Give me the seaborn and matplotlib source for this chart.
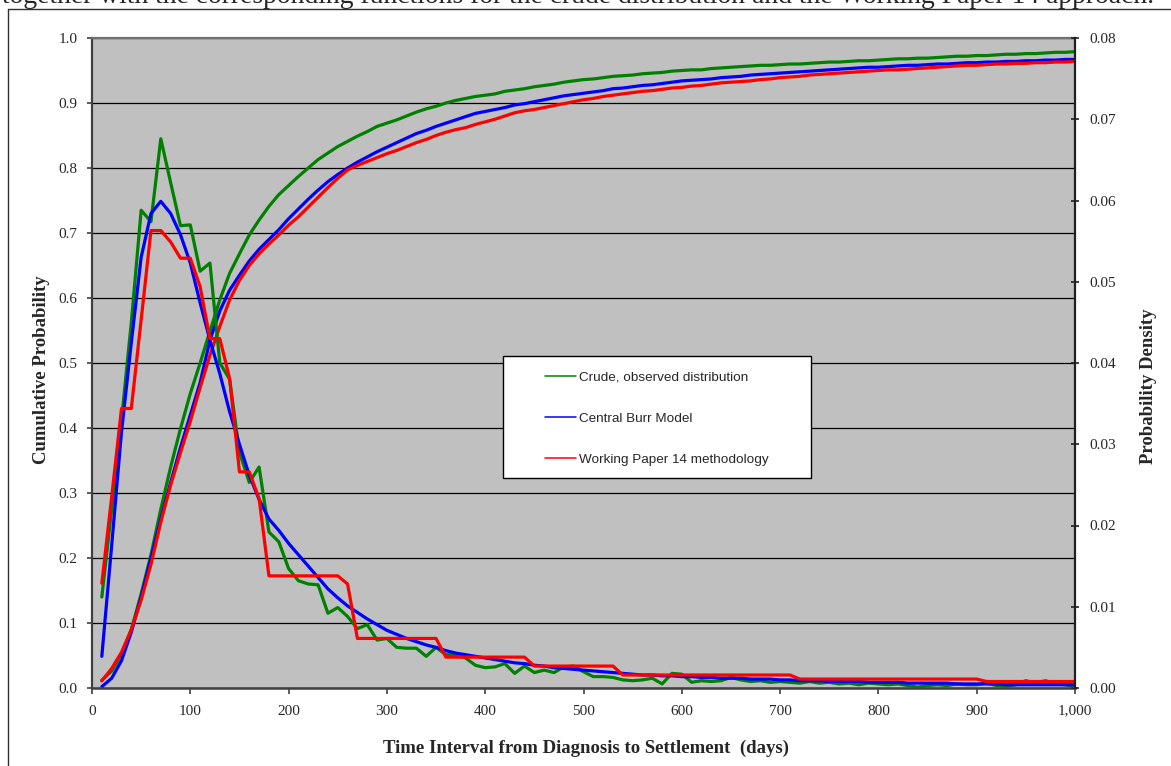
import matplotlib
matplotlib.use("Agg")
import matplotlib.pyplot as plt
from matplotlib.lines import Line2D
from matplotlib.patches import Rectangle
from matplotlib.ticker import FuncFormatter
import numpy as np
import pandas as pd
import seaborn as sns

# Time grid (days from diagnosis to settlement)
days = [10, 20, 30, 40, 50, 60, 70, 80, 90, 100,
        110, 120, 130, 140, 150, 160, 170, 180, 190, 200,
        210, 220, 230, 240, 250, 260, 270, 280, 290, 300,
        310, 320, 330, 340, 350, 360, 370, 380, 390, 400,
        410, 420, 430, 440, 450, 460, 470, 480, 490, 500,
        510, 520, 530, 540, 550, 560, 570, 580, 590, 600,
        610, 620, 630, 640, 650, 660, 670, 680, 690, 700,
        710, 720, 730, 740, 750, 760, 770, 780, 790, 800,
        810, 820, 830, 840, 850, 860, 870, 880, 890, 900,
        910, 920, 930, 940, 950, 960, 970, 980, 990, 1000]

# Cumulative probability (left axis)
crude_cdf = [0.012, 0.026, 0.052, 0.090, 0.145, 0.205, 0.275, 0.340, 0.399, 0.453,
             0.500, 0.549, 0.597, 0.638, 0.668, 0.697, 0.720, 0.741, 0.759, 0.773,
             0.787, 0.800, 0.813, 0.823, 0.833, 0.841, 0.849, 0.856, 0.864, 0.869,
             0.874, 0.880, 0.886, 0.891, 0.895, 0.900, 0.904, 0.907, 0.910, 0.912,
             0.914, 0.918, 0.920, 0.922, 0.925, 0.927, 0.929, 0.932, 0.934, 0.936,
             0.937, 0.939, 0.941, 0.942, 0.943, 0.945, 0.946, 0.947, 0.949, 0.950,
             0.951, 0.951, 0.953, 0.954, 0.955, 0.956, 0.957, 0.958, 0.958, 0.959,
             0.960, 0.960, 0.961, 0.962, 0.963, 0.963, 0.964, 0.965, 0.965, 0.966,
             0.967, 0.968, 0.968, 0.969, 0.969, 0.970, 0.971, 0.972, 0.972, 0.973,
             0.973, 0.974, 0.975, 0.975, 0.976, 0.976, 0.977, 0.978, 0.978, 0.979]

burr_cdf = [0.002, 0.015, 0.042, 0.086, 0.140, 0.200, 0.260, 0.316, 0.370, 0.420,
            0.470, 0.535, 0.580, 0.612, 0.635, 0.657, 0.675, 0.690, 0.705, 0.722,
            0.737, 0.752, 0.766, 0.779, 0.790, 0.800, 0.809, 0.817, 0.825, 0.832,
            0.839, 0.846, 0.853, 0.858, 0.864, 0.869, 0.874, 0.879, 0.884, 0.887,
            0.890, 0.893, 0.897, 0.899, 0.902, 0.905, 0.908, 0.911, 0.913, 0.915,
            0.917, 0.919, 0.922, 0.923, 0.925, 0.927, 0.928, 0.930, 0.932, 0.934,
            0.935, 0.936, 0.937, 0.939, 0.940, 0.941, 0.943, 0.944, 0.945, 0.946,
            0.947, 0.948, 0.949, 0.950, 0.951, 0.952, 0.953, 0.954, 0.955, 0.955,
            0.956, 0.957, 0.958, 0.958, 0.959, 0.960, 0.960, 0.961, 0.962, 0.962,
            0.963, 0.963, 0.964, 0.964, 0.965, 0.965, 0.966, 0.966, 0.967, 0.967]

wp14_cdf = [0.011, 0.030, 0.055, 0.090, 0.135, 0.190, 0.255, 0.312, 0.362, 0.410,
            0.462, 0.512, 0.556, 0.597, 0.627, 0.650, 0.668, 0.683, 0.697, 0.712,
            0.725, 0.740, 0.755, 0.770, 0.784, 0.797, 0.804, 0.810, 0.816, 0.822,
            0.827, 0.833, 0.839, 0.844, 0.850, 0.855, 0.859, 0.862, 0.867, 0.871,
            0.875, 0.880, 0.885, 0.888, 0.890, 0.893, 0.896, 0.899, 0.902, 0.905,
            0.907, 0.910, 0.912, 0.914, 0.916, 0.918, 0.919, 0.921, 0.923, 0.924,
            0.926, 0.927, 0.929, 0.931, 0.932, 0.933, 0.934, 0.936, 0.937, 0.939,
            0.940, 0.941, 0.943, 0.944, 0.945, 0.946, 0.947, 0.948, 0.949, 0.950,
            0.951, 0.951, 0.952, 0.953, 0.954, 0.955, 0.956, 0.957, 0.958, 0.958,
            0.959, 0.960, 0.960, 0.961, 0.961, 0.962, 0.962, 0.963, 0.963, 0.964]

# Probability density (right axis)
crude_pdf = [0.0112, 0.0220, 0.0330, 0.0450, 0.0588, 0.0574, 0.0676, 0.0622, 0.0569, 0.0570,
             0.0513, 0.0523, 0.0400, 0.0380, 0.0290, 0.0253, 0.0272, 0.0192, 0.0180, 0.0147,
             0.0132, 0.0128, 0.0127, 0.0092, 0.0099, 0.0088, 0.0073, 0.0078, 0.0059, 0.0061,
             0.0050, 0.0049, 0.0049, 0.0039, 0.0050, 0.0041, 0.0041, 0.0037, 0.0028, 0.0025,
             0.0026, 0.0030, 0.0018, 0.0027, 0.0019, 0.0022, 0.0019, 0.0026, 0.0027, 0.0020,
             0.0014, 0.0014, 0.0013, 0.0010, 0.0009, 0.0010, 0.0012, 0.0005, 0.0018, 0.0017,
             0.0007, 0.0009, 0.0008, 0.0009, 0.0013, 0.0010, 0.0008, 0.0009, 0.0007, 0.0008,
             0.0007, 0.0006, 0.0008, 0.0006, 0.0007, 0.0005, 0.0006, 0.0004, 0.0006, 0.0005,
             0.0004, 0.0005, 0.0003, 0.0001, 0.0003, 0.0004, 0.0003, 0.0005, 0.0004, 0.0004,
             0.0006, 0.0003, 0.0002, 0.0004, 0.0009, 0.0006, 0.0009, 0.0005, 0.0004, 0.0002]

burr_pdf = [0.0039, 0.0175, 0.0315, 0.0425, 0.0530, 0.0584, 0.0599, 0.0584, 0.0558, 0.0523,
            0.0474, 0.0428, 0.0387, 0.0340, 0.0300, 0.0262, 0.0232, 0.0208, 0.0194, 0.0178,
            0.0164, 0.0150, 0.0136, 0.0122, 0.0111, 0.0101, 0.0093, 0.0085, 0.0078, 0.0071,
            0.0066, 0.0061, 0.0057, 0.0053, 0.0050, 0.0046, 0.0043, 0.0041, 0.0039, 0.0037,
            0.0035, 0.0033, 0.0031, 0.0030, 0.0028, 0.0027, 0.0025, 0.0024, 0.0023, 0.0022,
            0.0021, 0.0020, 0.0019, 0.0018, 0.0017, 0.0016, 0.0016, 0.0015, 0.0015, 0.0014,
            0.0014, 0.0013, 0.0013, 0.0012, 0.0012, 0.0012, 0.0011, 0.0011, 0.0011, 0.0010,
            0.0010, 0.0009, 0.0009, 0.0009, 0.0008, 0.0008, 0.0008, 0.0008, 0.0007, 0.0007,
            0.0007, 0.0007, 0.0006, 0.0006, 0.0006, 0.0006, 0.0006, 0.0005, 0.0005, 0.0005,
            0.0005, 0.0005, 0.0004, 0.0004, 0.0004, 0.0004, 0.0004, 0.0004, 0.0004, 0.0004]

wp14_pdf = [0.0129, 0.0235, 0.0344, 0.0344, 0.0453, 0.0563, 0.0563, 0.0549, 0.0529, 0.0529,
            0.0494, 0.0430, 0.0430, 0.0381, 0.0266, 0.0266, 0.0233, 0.0138, 0.0138, 0.0138,
            0.0138, 0.0138, 0.0138, 0.0138, 0.0138, 0.0128, 0.0061, 0.0061, 0.0061, 0.0061,
            0.0061, 0.0061, 0.0061, 0.0061, 0.0061, 0.0038, 0.0038, 0.0038, 0.0038, 0.0038,
            0.0038, 0.0038, 0.0038, 0.0038, 0.0027, 0.0027, 0.0027, 0.0027, 0.0027, 0.0027,
            0.0027, 0.0027, 0.0027, 0.0016, 0.0016, 0.0016, 0.0016, 0.0016, 0.0016, 0.0016,
            0.0016, 0.0016, 0.0016, 0.0016, 0.0016, 0.0016, 0.0016, 0.0016, 0.0016, 0.0016,
            0.0016, 0.0011, 0.0011, 0.0011, 0.0011, 0.0011, 0.0011, 0.0011, 0.0011, 0.0011,
            0.0011, 0.0011, 0.0011, 0.0011, 0.0011, 0.0011, 0.0011, 0.0011, 0.0011, 0.0011,
            0.0008, 0.0008, 0.0008, 0.0008, 0.0008, 0.0008, 0.0008, 0.0008, 0.0008, 0.0008]

series_names = ["Crude, observed distribution", "Central Burr Model",
                "Working Paper 14 methodology"]
series_colors = ["#008000", "#0000FF", "#FF0000"]

x_ticks = [0, 100, 200, 300, 400, 500, 600, 700, 800, 900, 1000]
left_ticks = [0.0, 0.1, 0.2, 0.3, 0.4, 0.5, 0.6, 0.7, 0.8, 0.9, 1.0]
right_ticks = [0.00, 0.01, 0.02, 0.03, 0.04, 0.05, 0.06, 0.07, 0.08]

caption = ("together with the corresponding functions for the crude distribution "
           "and the Working Paper 14 approach.")

# ---------------------------------------------------------------------------
sns.set_style("white")
plt.rcParams["font.family"] = ["Liberation Serif", "DejaVu Serif"]

W, H = 1171, 766
fig = plt.figure(figsize=(W / 100, H / 100), dpi=100)
ax = fig.add_axes([92 / W, (H - 688) / H, 983 / W, 650 / H])
ax.set_facecolor("#C0C0C0")
ax2 = ax.twinx()


def long_frame(cols):
    return pd.DataFrame({
        "day": days * len(cols),
        "value": [v for col in cols for v in col],
        "series": [n for n, col in zip(series_names, cols) for _ in col],
    })


cdf_df = long_frame([crude_cdf, burr_cdf, wp14_cdf])
pdf_df = long_frame([crude_pdf, burr_pdf, wp14_pdf])
palette = dict(zip(series_names, series_colors))

common = dict(x="day", y="value", hue="series", hue_order=series_names,
              palette=palette, linewidth=2.3, legend=False,
              estimator=None, errorbar=None, sort=False)
sns.lineplot(data=cdf_df, ax=ax, **common)
sns.lineplot(data=pdf_df, ax=ax2, **common)

# Axis ranges and ticks
ax.set_xlim(0, 1000)
ax.set_ylim(0, 1.0)
ax2.set_ylim(0, 0.08)
ax.set_xticks(x_ticks)
ax.set_yticks(left_ticks)
ax2.set_yticks(right_ticks)
ax.xaxis.set_major_formatter(FuncFormatter(lambda v, _: f"{int(round(v)):,}"))
ax.yaxis.set_major_formatter(FuncFormatter(lambda v, _: f"{v:.1f}"))
ax2.yaxis.set_major_formatter(FuncFormatter(lambda v, _: f"{v:.2f}"))

tick_font = 11
ax.tick_params(axis="x", direction="out", length=4, width=1.2, color="#404040",
               pad=8, labelsize=tick_font, bottom=True)
ax.tick_params(axis="y", direction="out", length=3.5, width=1.2, color="#404040",
               pad=7, labelsize=tick_font, left=True)
ax2.tick_params(axis="y", direction="inout", length=6, width=1.2, color="#202020",
                pad=7, labelsize=tick_font, right=True)

# Horizontal grid on the cumulative scale
ax.yaxis.grid(True, color="black", linewidth=0.9)
ax.xaxis.grid(False)
ax.set_axisbelow(True)

# Plot-area border
for side, color, lw in [("left", "#404040", 1.6), ("bottom", "#404040", 1.8),
                        ("top", "#707070", 1.6), ("right", "#202020", 1.6)]:
    ax.spines[side].set_color(color)
    ax.spines[side].set_linewidth(lw)
    ax.spines[side].set_visible(side != "right")
for side in ["left", "bottom", "top"]:
    ax2.spines[side].set_visible(False)
ax2.spines["right"].set_color("#202020")
ax2.spines["right"].set_linewidth(1.6)

# Axis titles
label_font = dict(fontsize=13.5, fontweight="bold")
ax.set_xlabel("Time Interval from Diagnosis to Settlement  (days)", **label_font)
ax.set_ylabel("Cumulative Probability", **label_font)
ax2.set_ylabel("Probability Density", **label_font)
ax.xaxis.set_label_coords(0.503, -0.080)
ax.yaxis.set_label_coords(-0.043, 0.489)
ax2.yaxis.set_label_coords(1.0665, 0.465)

# Legend box with series key
ax2.add_patch(Rectangle((0.4176, 0.3226), 0.3135, 0.1882, transform=ax2.transAxes,
                        facecolor="white", edgecolor="black", linewidth=1.0,
                        zorder=10))
handles = [Line2D([], [], color=c, linewidth=1.1) for c in series_colors]
leg = ax2.legend(handles, series_names, loc="upper left",
                 bbox_to_anchor=(0.4608, 0.4880), bbox_transform=ax2.transAxes,
                 frameon=False, borderpad=0, borderaxespad=0,
                 handlelength=2.3, handletextpad=0.25, labelspacing=2.15,
                 prop={"family": ["Liberation Sans", "DejaVu Sans"], "size": 9.7})
leg.set_zorder(11)

# Outer chart frame and the running text line above it
fig.add_artist(Line2D([7.5 / W, 7.5 / W], [0, 1 - 9 / H], transform=fig.transFigure,
                      color="#303030", linewidth=1.0))
fig.add_artist(Line2D([7.5 / W, 1], [1 - 9 / H, 1 - 9 / H], transform=fig.transFigure,
                      color="#303030", linewidth=1.0))

cap = fig.text(2 / W, 1 - 3 / H, caption, ha="left", va="baseline",
               fontsize=18, family=["Liberation Serif", "DejaVu Serif"])
fig.canvas.draw()
bb = cap.get_window_extent(fig.canvas.get_renderer())
cap.set_fontsize(18 * 1157 / bb.width)

fig.savefig("out.png", dpi=100, facecolor="white")
